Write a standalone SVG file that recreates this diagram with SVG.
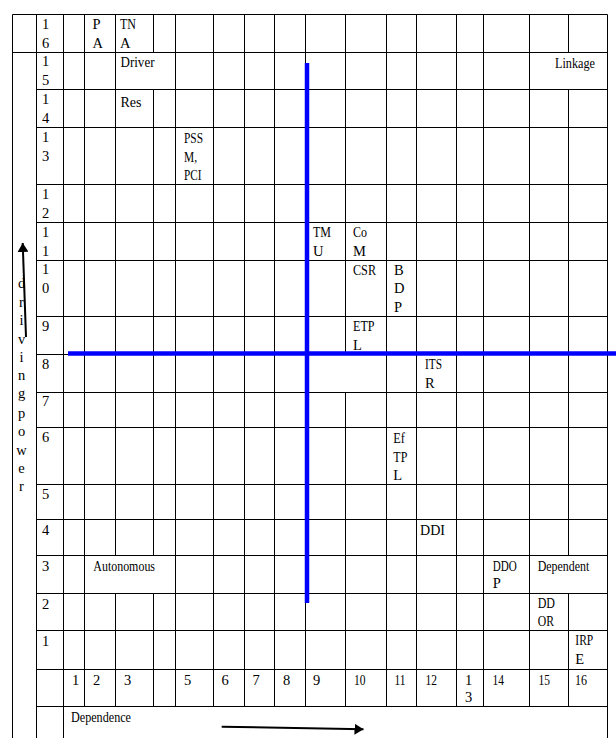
<svg xmlns="http://www.w3.org/2000/svg" width="616" height="738" viewBox="0 0 616 738">
<style>
.bg{fill:#ffffff}
.grid{stroke:#000;stroke-width:1;fill:none}
.axis{stroke:#0000ff;stroke-width:4.5;fill:none}
.arr{stroke:#000;stroke-width:2;fill:none}
.t{font-family:"Liberation Serif","Times New Roman",serif;font-size:14.5px;fill:#000}
.v{font-family:"Liberation Serif","Times New Roman",serif;font-size:14.5px;fill:#000;text-anchor:middle}
</style>
<defs>
<marker id="head" markerUnits="userSpaceOnUse" markerWidth="10" markerHeight="11" refX="9" refY="5.5" orient="auto">
<path d="M0,0 L9,5.5 L0,11 z" fill="#000"/>
</marker>
</defs>
<rect class="bg" x="0" y="0" width="616" height="738"/>
<g id="grid" class="grid">
<path d="M12.5,14.5H607.5 M12.5,52.5H607.5 M36.5,89.5H607.5 M36.5,127.5H607.5 M36.5,184.5H607.5 M36.5,222.5H607.5 M36.5,260.5H607.5 M36.5,316.5H607.5 M36.5,354.5H607.5 M36.5,392.5H607.5 M36.5,427.5H607.5 M36.5,484.5H607.5 M36.5,519.5H607.5 M36.5,555.5H607.5 M36.5,593.5H607.5 M36.5,630.5H607.5 M36.5,669.5H607.5 M36.5,706.5H607.5"/>
<path d="M12.5,14.5V738 M36.5,14.5V738 M63.5,14.5V738 M607.5,14.5V738"/>
<path d="M84.5,14.5V706.5 M115.5,14.5V555.5 M115.5,593.5V706.5 M153.5,14.5V52.5 M153.5,89.5V555.5 M153.5,593.5V706.5 M175.5,14.5V706.5 M213.5,14.5V706.5 M244.5,14.5V706.5 M274.5,14.5V706.5 M305.5,14.5V706.5 M345.5,14.5V354.5 M345.5,392.5V706.5 M386.5,14.5V706.5 M416.5,14.5V706.5 M456.5,14.5V706.5 M483.5,14.5V706.5 M529.5,14.5V706.5 M568.5,14.5V52.5 M568.5,89.5V555.5 M568.5,593.5V706.5"/>
</g>
<g id="row-labels">
<text class="t" x="42" y="28.5">1</text><text class="t" x="42" y="47.5">6</text>
<text class="t" x="42" y="66">1</text><text class="t" x="42" y="85">5</text>
<text class="t" x="42" y="104">1</text><text class="t" x="42" y="123">4</text>
<text class="t" x="42" y="141.7">1</text><text class="t" x="42" y="160.7">3</text>
<text class="t" x="42" y="199">1</text><text class="t" x="42" y="218">2</text>
<text class="t" x="42" y="237">1</text><text class="t" x="42" y="256">1</text>
<text class="t" x="42" y="274">1</text><text class="t" x="42" y="293">0</text>
<text class="t" x="42" y="330.5">9</text>
<text class="t" x="42" y="368.5">8</text>
<text class="t" x="42" y="405.5">7</text>
<text class="t" x="42" y="442">6</text>
<text class="t" x="42" y="499">5</text>
<text class="t" x="42" y="535">4</text>
<text class="t" x="42" y="570.5">3</text>
<text class="t" x="42" y="608.5">2</text>
<text class="t" x="42" y="646">1</text>
</g>
<g id="col-labels">
<text class="t" x="72" y="684.5">1</text>
<text class="t" x="93" y="684.5">2</text>
<text class="t" x="124" y="684.5">3</text>
<text class="t" x="184" y="684.5">5</text>
<text class="t" x="221.5" y="684.5">6</text>
<text class="t" x="252.5" y="684.5">7</text>
<text class="t" x="283" y="684.5">8</text>
<text class="t" x="313" y="684.5">9</text>
<text class="t" x="354" y="684.5" textLength="11.5" lengthAdjust="spacingAndGlyphs">10</text>
<text class="t" x="394.5" y="684.5" textLength="11" lengthAdjust="spacingAndGlyphs">11</text>
<text class="t" x="425.5" y="684.5" textLength="11.5" lengthAdjust="spacingAndGlyphs">12</text>
<text class="t" x="465" y="684.5">1</text><text class="t" x="465" y="702">3</text>
<text class="t" x="492.5" y="684.5" textLength="11.5" lengthAdjust="spacingAndGlyphs">14</text>
<text class="t" x="538.5" y="684.5" textLength="11.5" lengthAdjust="spacingAndGlyphs">15</text>
<text class="t" x="575" y="684.5" textLength="12" lengthAdjust="spacingAndGlyphs">16</text>
</g>
<g id="cell-PA"><text class="t" x="92.5" y="28.5">P</text><text class="t" x="92.5" y="47.5">A</text></g>
<g id="cell-TNA"><text class="t" x="120" y="28.5" textLength="16" lengthAdjust="spacingAndGlyphs">TN</text><text class="t" x="120" y="47.5">A</text></g>
<g id="cell-Driver"><text class="t" x="120.5" y="67.3" textLength="34" lengthAdjust="spacingAndGlyphs">Driver</text></g>
<g id="cell-Linkage"><text class="t" x="555" y="67.5" textLength="40" lengthAdjust="spacingAndGlyphs">Linkage</text></g>
<g id="cell-Res"><text class="t" x="120.5" y="106.5" textLength="21" lengthAdjust="spacingAndGlyphs">Res</text></g>
<g id="cell-PSSM-PCI"><text class="t" x="184" y="143.3" textLength="19" lengthAdjust="spacingAndGlyphs">PSS</text><text class="t" x="184" y="161.7" textLength="13" lengthAdjust="spacingAndGlyphs">M,</text><text class="t" x="184" y="180" textLength="17.5" lengthAdjust="spacingAndGlyphs">PCI</text></g>
<g id="cell-TMU"><text class="t" x="313" y="237.3" textLength="18" lengthAdjust="spacingAndGlyphs">TM</text><text class="t" x="313" y="255.7">U</text></g>
<g id="cell-CoM"><text class="t" x="353" y="237.3" textLength="14" lengthAdjust="spacingAndGlyphs">Co</text><text class="t" x="353" y="255.7">M</text></g>
<g id="cell-CSR"><text class="t" x="353" y="275" textLength="23" lengthAdjust="spacingAndGlyphs">CSR</text></g>
<g id="cell-BDP"><text class="t" x="394" y="275">B</text><text class="t" x="394" y="293.3">D</text><text class="t" x="394" y="311.7">P</text></g>
<g id="cell-ETPL"><text class="t" x="353" y="331" textLength="21.5" lengthAdjust="spacingAndGlyphs">ETP</text><text class="t" x="353" y="350">L</text></g>
<g id="cell-ITSR"><text class="t" x="425" y="369" textLength="17" lengthAdjust="spacingAndGlyphs">ITS</text><text class="t" x="425" y="387.7">R</text></g>
<g id="cell-EfTPL"><text class="t" x="393.3" y="443.3" textLength="11.7" lengthAdjust="spacingAndGlyphs">Ef</text><text class="t" x="393.3" y="461.7" textLength="14" lengthAdjust="spacingAndGlyphs">TP</text><text class="t" x="393.3" y="480">L</text></g>
<g id="cell-DDI"><text class="t" x="420" y="535" textLength="25" lengthAdjust="spacingAndGlyphs">DDI</text></g>
<g id="cell-Autonomous"><text class="t" x="93.3" y="570.7" textLength="61.7" lengthAdjust="spacingAndGlyphs">Autonomous</text></g>
<g id="cell-DDOP"><text class="t" x="492.7" y="570.7" textLength="24" lengthAdjust="spacingAndGlyphs">DDO</text><text class="t" x="492.7" y="588.3">P</text></g>
<g id="cell-Dependent"><text class="t" x="537.7" y="570.7" textLength="51.7" lengthAdjust="spacingAndGlyphs">Dependent</text></g>
<g id="cell-DDOR"><text class="t" x="537.7" y="608.3" textLength="17.3" lengthAdjust="spacingAndGlyphs">DD</text><text class="t" x="537.7" y="626" textLength="16.3" lengthAdjust="spacingAndGlyphs">OR</text></g>
<g id="cell-IRPE"><text class="t" x="575.3" y="645" textLength="18" lengthAdjust="spacingAndGlyphs">IRP</text><text class="t" x="575.3" y="664">E</text></g>
<g id="cell-Dependence"><text class="t" x="71" y="721.5" textLength="60" lengthAdjust="spacingAndGlyphs">Dependence</text></g>
<g id="driving-power">
<text class="v" x="21.5" y="288.3">d</text>
<text class="v" x="21.5" y="306.7">r</text>
<text class="v" x="21.5" y="325">i</text>
<text class="v" x="21.5" y="344">v</text>
<text class="v" x="21.5" y="361.7">i</text>
<text class="v" x="21.5" y="380.3">n</text>
<text class="v" x="21.5" y="398.3">g</text>
<text class="v" x="21.5" y="417.7">p</text>
<text class="v" x="21.5" y="435.7">o</text>
<text class="v" x="21.5" y="455">w</text>
<text class="v" x="21.5" y="472.7">e</text>
<text class="v" x="21.5" y="491">r</text>
</g>
<g id="axes" class="axis">
<line x1="307" y1="63" x2="307" y2="603"/>
<line x1="68" y1="353.5" x2="616" y2="353.5"/>
</g>
<g id="connectors" class="arr">
<line x1="26" y1="337" x2="22.7" y2="243" marker-end="url(#head)"/>
<line x1="221.7" y1="726.7" x2="363.5" y2="729.3" marker-end="url(#head)"/>
</g>
</svg>
